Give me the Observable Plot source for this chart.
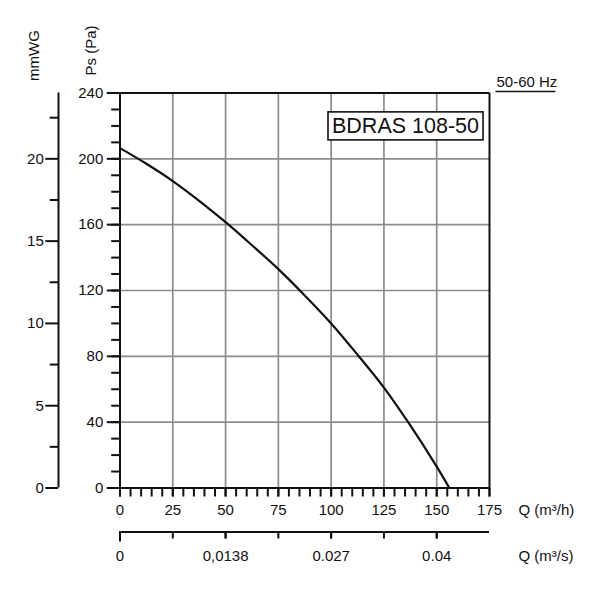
<!DOCTYPE html>
<html><head><meta charset="utf-8">
<script src="https://cdn.jsdelivr.net/npm/d3@7"></script>
<script src="https://cdn.jsdelivr.net/npm/@observablehq/plot@0.6"></script>
<style>html,body{margin:0;padding:0;background:#fff}</style>
</head><body><div id="chart"></div>
<script>
// ---- data ----
const flowM3h    = [0, 12.5, 25, 37.5, 50, 62.5, 75, 87.5, 100, 112.5, 125, 137.5, 150, 156];
const pressurePa = [206.5, 197, 186.5, 174.5, 161.5, 147.5, 133, 117, 100, 81, 61, 38, 13, 0];

const xDomain = [0, 175];
const yDomain = [0, 240];
const xMajorTicks = [0, 25, 50, 75, 100, 125, 150, 175];
const xMinorTicks = d3.range(0, 176, 5);
const xGrid = [25, 50, 75, 100, 125, 150];
const paTicks = [0, 40, 80, 120, 160, 200, 240];
const paMinorTicks = d3.range(0, 241, 10);
const yGrid = [40, 80, 120, 160, 200];
const mmwgTicks = [0, 5, 10, 15, 20];
const mmwgMinorTicks = [2.5, 7.5, 12.5, 17.5, 22.5];
const paPerMmwg = 10;
const qsTickPos = [0, 25, 50, 75, 100, 125, 150];
const qsLabelPos = [0, 50, 100, 150];
const qsLabels = ["0", "0,0138", "0.027", "0.04"];

const titleText = "BDRAS 108-50";
const freqText = "50-60 Hz";
const xLabel1 = "Q (m³/h)";
const xLabel2 = "Q (m³/s)";
const yLabelPa = "Ps (Pa)";
const yLabelMm = "mmWG";

const curveData = flowM3h.map((q, i) => ({q, ps: pressurePa[i]}));

const ink = "#111";
const gridColor = "#8c8c8c";
const fs = 15;

const plot = Plot.plot({
  width: 600, height: 600,
  marginLeft: 119.5, marginRight: 111, marginTop: 92.5, marginBottom: 112.5,
  x: {domain: xDomain, label: null},
  y: {domain: yDomain, label: null},
  style: {fontFamily: "'Liberation Sans', Arial, sans-serif", fontSize: fs + "px", color: ink, background: "#fff"},
  marks: [
    Plot.gridX(xGrid, {stroke: gridColor, strokeOpacity: 1, strokeWidth: 1.7}),
    Plot.gridY(yGrid, {stroke: gridColor, strokeOpacity: 1, strokeWidth: 1.7}),
    Plot.line(curveData, {x: "q", y: "ps", curve: "catmull-rom", stroke: ink, strokeWidth: 2.2}),
    // frame
    Plot.ruleX([xDomain[0]], {stroke: ink, strokeWidth: 2}),
    Plot.ruleX([xDomain[1]], {stroke: ink, strokeWidth: 2}),
    Plot.ruleY([yDomain[0]], {stroke: ink, strokeWidth: 2}),
    Plot.ruleY([yDomain[1]], {stroke: ink, strokeWidth: 2}),
    // Pa axis
    Plot.axisY({ticks: paMinorTicks, tickSize: 8.3, fill: "none", stroke: ink, strokeWidth: 2, label: null}),
    Plot.axisY({ticks: paTicks, tickSize: 12.7, tickPadding: 4, stroke: ink, fill: ink, strokeWidth: 2, fontSize: fs, label: null}),
    // mmWG axis
    Plot.ruleX([xDomain[0]], {dx: -61.5, stroke: ink, strokeWidth: 2}),
    Plot.axisY({ticks: mmwgMinorTicks.map(v => v * paPerMmwg), dx: -61.5, tickSize: 8.3, fill: "none", stroke: ink, strokeWidth: 2, label: null}),
    Plot.axisY({ticks: mmwgTicks.map(v => v * paPerMmwg), dx: -61.5, tickSize: 12.7, tickPadding: 2, tickFormat: d => d / paPerMmwg, stroke: ink, fill: ink, strokeWidth: 2, fontSize: fs, label: null}),
    // Q m3/h axis
    Plot.axisX({ticks: xMinorTicks, tickSize: 9, fill: "none", stroke: ink, strokeWidth: 2, label: null}),
    Plot.axisX({ticks: xMajorTicks, tickSize: 9, tickPadding: 7, stroke: ink, fill: ink, strokeWidth: 2, fontSize: fs, label: null}),
    // Q m3/s axis
    Plot.ruleY([yDomain[0]], {dy: 44, stroke: ink, strokeWidth: 2}),
    Plot.axisX({ticks: qsTickPos, dy: 44, tickSize: 7, fill: "none", stroke: ink, strokeWidth: 2, label: null}),
    Plot.axisX({ticks: [qsTickPos[0]], dy: 44, tickSize: 10, fill: "none", stroke: ink, strokeWidth: 2, label: null}),
    Plot.axisX({ticks: qsLabelPos, dy: 44, tickSize: 7, tickPadding: 11, tickFormat: d => qsLabels[qsLabelPos.indexOf(d)], stroke: ink, fill: ink, strokeWidth: 2, fontSize: fs, label: null}),
    // labels
    Plot.text([xLabel1], {frameAnchor: "bottom-right", dx: 29, dy: 22.5, textAnchor: "start", lineAnchor: "middle", fontSize: fs, fill: ink}),
    Plot.text([xLabel2], {frameAnchor: "bottom-right", dx: 29, dy: 68.5, textAnchor: "start", lineAnchor: "middle", fontSize: fs, fill: ink}),
    Plot.text([yLabelMm], {frameAnchor: "top-left", dx: -85.7, dy: -37.5, rotate: -90, textAnchor: "middle", lineAnchor: "middle", fontSize: fs, fill: ink}),
    Plot.text([yLabelPa], {frameAnchor: "top-left", dx: -28.5, dy: -42.5, rotate: -90, textAnchor: "middle", lineAnchor: "middle", fontSize: 15, fill: ink}),
    Plot.text([freqText], {frameAnchor: "top-right", dx: 7, dy: -11.3, textAnchor: "start", lineAnchor: "middle", fontSize: 15, fill: ink}),
    Plot.text([titleText], {frameAnchor: "top-right", dx: -84, dy: 33, textAnchor: "middle", lineAnchor: "middle", fontSize: 21.5, fill: ink})
  ]
});

document.getElementById("chart").appendChild(plot);

// box round the title and underline under the frequency label
const svgRect = plot.getBoundingClientRect();
const NS = "http://www.w3.org/2000/svg";
const texts = [...plot.querySelectorAll("text")];
const tTitle = texts.find(t => t.textContent === titleText);
if (tTitle) {
  const r = tTitle.getBoundingClientRect();
  const rect = document.createElementNS(NS, "rect");
  rect.setAttribute("x", r.left - svgRect.left - 4);
  rect.setAttribute("y", r.top - svgRect.top - 2);
  rect.setAttribute("width", r.width + 8);
  rect.setAttribute("height", r.height + 4);
  rect.setAttribute("fill", "#fff");
  rect.setAttribute("stroke", ink);
  rect.setAttribute("stroke-width", 1.6);
  const g = tTitle.parentNode;
  g.parentNode.insertBefore(rect, g);
}
const tFreq = texts.find(t => t.textContent === freqText);
if (tFreq) {
  const r = tFreq.getBoundingClientRect();
  const line = document.createElementNS(NS, "line");
  const y = r.bottom - svgRect.top + 2;
  line.setAttribute("x1", r.left - svgRect.left - 1);
  line.setAttribute("x2", r.right - svgRect.left - 2);
  line.setAttribute("y1", y);
  line.setAttribute("y2", y);
  line.setAttribute("stroke", ink);
  line.setAttribute("stroke-width", 1.6);
  plot.appendChild(line);
}
</script>
</body></html>
